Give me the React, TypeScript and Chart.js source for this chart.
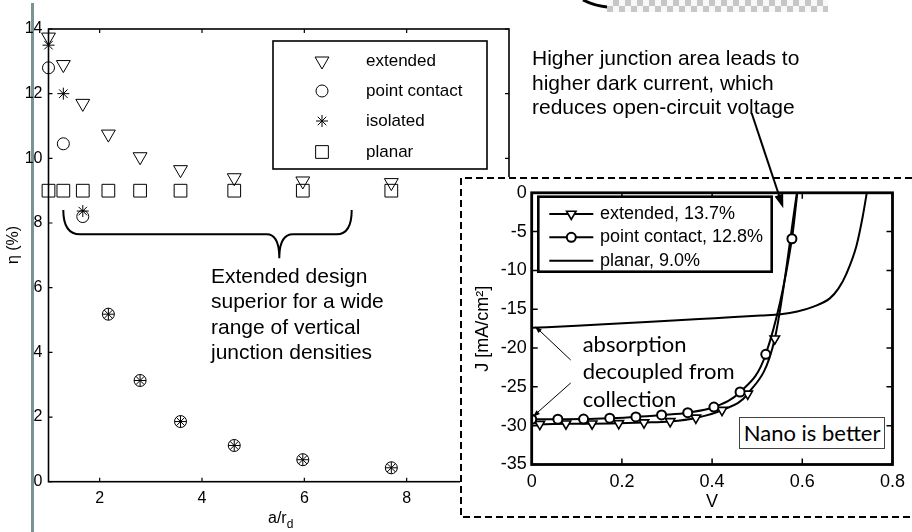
import React, { useEffect, useRef } from 'react';
import { Chart, registerables } from 'chart.js';
import { drawPoint } from 'chart.js/helpers';

Chart.register(...registerables);

const FONT = '"Liberation Sans", Arial, Helvetica, sans-serif';
const CAL = 'Lato, "Open Sans", sans-serif';

// ---------- main chart: efficiency vs a/r_d ----------
const RATIO = [1.0, 1.29, 1.67, 2.17, 2.79, 3.58, 4.63, 5.97, 7.7];
const EXTENDED = [13.75, 12.9, 11.7, 10.75, 10.05, 9.65, 9.4, 9.3, 9.25];
const POINT_CONTACT = [12.8, 10.45, 8.2, 5.18, 3.13, 1.86, 1.12, 0.68, 0.43];
const ISOLATED = [13.5, 12.0, 8.37, 5.18, 3.13, 1.86, 1.12, 0.68, 0.43];
const PLANAR = [9.0, 9.0, 9.0, 9.0, 9.0, 9.0, 9.0, 9.0, 9.0];
const MAIN_LABELS = ['extended', 'point contact', 'isolated', 'planar'];
const MAIN_X_TICKS = [2, 4, 6, 8];
const MAIN_Y_TICKS = [0, 2, 4, 6, 8, 10, 12, 14];

// ---------- inset: J-V curves ----------
const EXT_V = [0, 0.018, 0.076, 0.134, 0.193, 0.249, 0.307, 0.364, 0.422, 0.479, 0.539, 0.588];
const EXT_J = [-29.6, -29.8, -29.75, -29.75, -29.7, -29.6, -29.45, -29.0, -28.0, -25.9, -18.8, 0];
const PC_V = [0, 0.058, 0.115, 0.173, 0.231, 0.288, 0.346, 0.404, 0.462, 0.519, 0.577, 0.589];
const PC_J = [-29.17, -29.17, -29.15, -29.04, -28.87, -28.62, -28.32, -27.6, -25.66, -20.8, -5.92, 0];
const PLANAR_V = [0, 0.1, 0.202, 0.304, 0.406, 0.508, 0.552, 0.589, 0.625, 0.661, 0.68, 0.698, 0.72, 0.734, 0.743];
const PLANAR_J = [-17.4, -17.12, -16.8, -16.49, -16.15, -15.81, -15.65, -15.3, -14.67, -13.6, -12.35, -10.4, -6.85, -3.05, 0];
const INSET_LABELS = ['extended, 13.7%', 'point contact, 12.8%', 'planar, 9.0%'];
const INSET_X_TICKS = [0, 0.2, 0.4, 0.6, 0.8];
const INSET_Y_TICKS = [-35, -30, -25, -20, -15, -10, -5, 0];

const pts = (xs: number[], ys: number[]) => xs.map((x, i) => ({ x, y: ys[i] }));

const INSET_LEFT = 460;
const INSET_TOP = 177;
const INSET_W = 452;
const INSET_H = 341;

function mainConfig(): any {
  const marker = (style: string, radius: number, rotation = 0) => ({
    pointStyle: style,
    pointRadius: radius,
    pointRotation: rotation,
    pointBorderColor: '#000',
    pointBackgroundColor: 'rgba(0,0,0,0)',
    pointBorderWidth: 1,
    showLine: false,
    clip: false,
  });
  const legendStyles = [
    { pointStyle: 'triangle', radius: 8, rotation: 180 },
    { pointStyle: 'circle', radius: 6, rotation: 0 },
    { pointStyle: 'star', radius: 6, rotation: 0 },
    { pointStyle: 'rect', radius: 9, rotation: 0 },
  ];
  const decor = {
    id: 'mainDecor',
    afterDraw(chart: any) {
      const { ctx, chartArea: a, scales } = chart;
      const x = scales.x, y = scales.y;
      ctx.save();
      ctx.strokeStyle = '#000';
      ctx.lineWidth = 1.6;
      ctx.strokeRect(a.left, a.top, a.right - a.left, a.bottom - a.top);
      ctx.lineWidth = 1.2;
      ctx.beginPath();
      for (const v of MAIN_X_TICKS) {
        const px = x.getPixelForValue(v);
        ctx.moveTo(px, a.bottom); ctx.lineTo(px, a.bottom - 4);
        ctx.moveTo(px, a.top); ctx.lineTo(px, a.top + 4);
      }
      for (const v of MAIN_Y_TICKS) {
        const py = y.getPixelForValue(v);
        ctx.moveTo(a.left, py); ctx.lineTo(a.left + 4, py);
        ctx.moveTo(a.right, py); ctx.lineTo(a.right - 4, py);
      }
      ctx.stroke();
      // legend box
      const bx = 273, by = 41, bw = 214, bh = 128;
      ctx.fillStyle = '#fff';
      ctx.fillRect(bx, by, bw, bh);
      ctx.lineWidth = 1.6;
      ctx.strokeRect(bx, by, bw, bh);
      const rows = [61, 91, 121, 152];
      ctx.font = `17px ${FONT}`;
      ctx.textBaseline = 'middle';
      ctx.textAlign = 'left';
      MAIN_LABELS.forEach((lab, i) => {
        const s = legendStyles[i];
        ctx.fillStyle = 'rgba(0,0,0,0)';
        ctx.strokeStyle = '#000';
        ctx.lineWidth = 1;
        drawPoint(ctx, { pointStyle: s.pointStyle as any, radius: s.radius, rotation: s.rotation, borderWidth: 1 }, 322, rows[i]);
        ctx.fillStyle = '#000';
        ctx.fillText(lab, 366, rows[i]);
      });
      ctx.restore();
    },
  };
  return {
    type: 'scatter',
    data: {
      datasets: [
        { label: MAIN_LABELS[0], data: pts(RATIO, EXTENDED), ...marker('triangle', 8, 180) },
        { label: MAIN_LABELS[1], data: pts(RATIO, POINT_CONTACT), ...marker('circle', 6) },
        { label: MAIN_LABELS[2], data: pts(RATIO, ISOLATED), ...marker('star', 6) },
        { label: MAIN_LABELS[3], data: pts(RATIO, PLANAR), ...marker('rect', 9) },
      ],
    },
    options: {
      animation: false,
      responsive: false,
      maintainAspectRatio: false,
      events: [],
      layout: { padding: { top: 29, right: 403, left: 0, bottom: 0 } },
      plugins: { legend: { display: false }, tooltip: { enabled: false } },
      scales: {
        x: {
          type: 'linear', min: 1, max: 10,
          afterFit: (s: any) => { s.height = 50.3; },
          afterBuildTicks: (s: any) => { s.ticks = MAIN_X_TICKS.map((v) => ({ value: v })); },
          grid: { display: false, drawTicks: false },
          border: { display: false },
          ticks: { font: { family: FONT, size: 16 }, color: '#000', padding: 7, maxRotation: 0, callback: (v: any) => String(v) },
        },
        y: {
          type: 'linear', min: 0, max: 14,
          afterFit: (s: any) => { s.width = 48.5; },
          afterBuildTicks: (s: any) => { s.ticks = MAIN_Y_TICKS.map((v) => ({ value: v })); },
          grid: { display: false, drawTicks: false },
          border: { display: false },
          ticks: { font: { family: FONT, size: 16 }, color: '#000', padding: 6, callback: (v: any) => String(v) },
        },
      },
    },
    plugins: [decor],
  };
}

function insetConfig(): any {
  const decor = {
    id: 'insetDecor',
    beforeDraw(chart: any) {
      const { ctx } = chart;
      ctx.save();
      ctx.fillStyle = '#fff';
      ctx.fillRect(0, 0, INSET_W, INSET_H);
      ctx.strokeStyle = '#000';
      ctx.lineWidth = 2;
      ctx.setLineDash([7, 4]);
      ctx.beginPath();
      ctx.moveTo(INSET_W, 1); ctx.lineTo(1, 1); ctx.lineTo(1, INSET_H - 1); ctx.lineTo(INSET_W, INSET_H - 1);
      ctx.stroke();
      ctx.restore();
    },
    afterDraw(chart: any) {
      const { ctx, chartArea: a, scales } = chart;
      const x = scales.x, y = scales.y;
      ctx.save();
      ctx.strokeStyle = '#000';
      ctx.lineWidth = 2.8;
      ctx.strokeRect(a.left, a.top, a.right - a.left, a.bottom - a.top);
      ctx.lineWidth = 1.5;
      ctx.beginPath();
      for (const v of INSET_X_TICKS) {
        const px = x.getPixelForValue(v);
        ctx.moveTo(px, a.bottom); ctx.lineTo(px, a.bottom - 6);
        ctx.moveTo(px, a.top); ctx.lineTo(px, a.top + 6);
      }
      for (const v of INSET_Y_TICKS) {
        const py = y.getPixelForValue(v);
        ctx.moveTo(a.left, py); ctx.lineTo(a.left + 6, py);
        ctx.moveTo(a.right, py); ctx.lineTo(a.right - 6, py);
      }
      ctx.stroke();
      // legend
      const bx = 78.3, by = 19.7, bw = 233.4, bh = 75;
      ctx.fillStyle = '#fff';
      ctx.fillRect(bx, by, bw, bh);
      ctx.lineWidth = 2.6;
      ctx.strokeRect(bx, by, bw, bh);
      const rows = [37, 60.3, 83.7];
      const styles = [
        { pointStyle: 'triangle', radius: 5.5, rotation: 180, bw: 1.6 },
        { pointStyle: 'circle', radius: 4.5, rotation: 0, bw: 2 },
        null,
      ];
      ctx.font = `18px ${FONT}`;
      ctx.textBaseline = 'middle';
      INSET_LABELS.forEach((lab, i) => {
        ctx.strokeStyle = '#000';
        ctx.lineWidth = 2;
        ctx.beginPath();
        ctx.moveTo(89.3, rows[i]); ctx.lineTo(133.3, rows[i]);
        ctx.stroke();
        const s = styles[i];
        if (s) {
          ctx.fillStyle = '#fff';
          ctx.lineWidth = s.bw;
          drawPoint(ctx, { pointStyle: s.pointStyle as any, radius: s.radius, rotation: s.rotation, borderWidth: s.bw }, 111.3, rows[i]);
        }
        ctx.fillStyle = '#000';
        ctx.fillText(lab, 140, rows[i]);
      });
      ctx.restore();
    },
  };
  const lastIdx = (arr: number[]) => arr.length - 1;
  return {
    type: 'line',
    data: {
      datasets: [
        {
          label: INSET_LABELS[2], data: pts(PLANAR_V, PLANAR_J), borderColor: '#000', borderWidth: 2,
          pointRadius: 0, cubicInterpolationMode: 'monotone', fill: false,
        },
        {
          label: INSET_LABELS[1], data: pts(PC_V, PC_J), borderColor: '#000', borderWidth: 2,
          pointStyle: 'circle',
          pointRadius: PC_V.map((_, i) => (i === lastIdx(PC_V) ? 0 : 4.5)),
          pointBackgroundColor: '#fff', pointBorderColor: '#000', pointBorderWidth: 2,
          cubicInterpolationMode: 'monotone', fill: false,
        },
        {
          label: INSET_LABELS[0], data: pts(EXT_V, EXT_J), borderColor: '#000', borderWidth: 2,
          pointStyle: 'triangle', pointRotation: 180,
          pointRadius: EXT_V.map((_, i) => (i === 0 || i === lastIdx(EXT_V) ? 0 : 5.5)),
          pointBackgroundColor: '#fff', pointBorderColor: '#000', pointBorderWidth: 1.6,
          cubicInterpolationMode: 'monotone', fill: false,
        },
      ],
    },
    options: {
      animation: false,
      responsive: false,
      maintainAspectRatio: false,
      events: [],
      layout: { padding: { top: 12.3, right: 15, left: 0, bottom: 0 } },
      plugins: { legend: { display: false }, tooltip: { enabled: false } },
      scales: {
        x: {
          type: 'linear', min: 0, max: 0.8,
          afterFit: (s: any) => { s.height = 53.5; },
          afterBuildTicks: (s: any) => { s.ticks = INSET_X_TICKS.map((v) => ({ value: v })); },
          grid: { display: false, drawTicks: false },
          border: { display: false },
          ticks: { font: { family: FONT, size: 18 }, color: '#000', padding: 7, maxRotation: 0, callback: (v: any) => String(v) },
          title: { display: true, text: 'V', font: { family: FONT, size: 18 }, color: '#000', padding: { top: 0, bottom: 5 } },
        },
        y: {
          type: 'linear', min: -35, max: 0,
          afterFit: (s: any) => { s.width = 71.7; },
          afterBuildTicks: (s: any) => { s.ticks = INSET_Y_TICKS.map((v) => ({ value: v })); },
          grid: { display: false, drawTicks: false },
          border: { display: false },
          ticks: { font: { family: FONT, size: 18 }, color: '#000', padding: 5, callback: (v: any) => String(v) },
          title: { display: true, text: 'J [mA/cm²]', font: { family: FONT, size: 18 }, color: '#000', padding: { top: 12, bottom: 0 } },
        },
      },
    },
    plugins: [decor],
  };
}

function arrowHead(x1: number, y1: number, x2: number, y2: number, len: number, w: number) {
  const a = Math.atan2(y2 - y1, x2 - x1);
  const bx = x2 - len * Math.cos(a), by = y2 - len * Math.sin(a);
  const px = (-Math.sin(a) * w) / 2, py = (Math.cos(a) * w) / 2;
  return `${x2},${y2} ${bx + px},${by + py} ${bx - px},${by - py}`;
}

export default function App() {
  const mainRef = useRef<HTMLCanvasElement>(null);
  const insetRef = useRef<HTMLCanvasElement>(null);

  useEffect(() => {
    const c1 = new Chart(mainRef.current as HTMLCanvasElement, mainConfig());
    const c2 = new Chart(insetRef.current as HTMLCanvasElement, insetConfig());
    return () => {
      c1.destroy();
      c2.destroy();
    };
  }, []);

  const abs = (left: number, top: number, extra: any = {}) => ({ position: 'absolute' as const, left, top, ...extra });

  return (
    <div style={{ position: 'absolute', left: 0, top: 0, width: 912, height: 532, background: '#fff', overflow: 'hidden', fontFamily: FONT, color: '#000' }}>
      {/* slide artefacts at the top */}
      <div style={abs(607, 0, { width: 221, height: 12, opacity: 0.55, background: 'repeating-conic-gradient(#9a9a9a 0 25%, #f2f2f2 0 50%) 0 0 / 12px 12px' })} />
      <div style={abs(31, 3, { width: 2.5, height: 529, background: '#7c9393' })} />

      <canvas ref={mainRef} width={912} height={532} style={abs(0, 0, { width: 912, height: 532 })} />

      <div style={abs(INSET_LEFT, INSET_TOP, { width: INSET_W, height: INSET_H, background: '#fff' })}>
        <canvas ref={insetRef} width={INSET_W} height={INSET_H} style={{ display: 'block', width: INSET_W, height: INSET_H }} />
      </div>

      <svg width={912} height={532} style={abs(0, 0, { pointerEvents: 'none' })}>
        <path d="M583 0 Q595 6 607 7" stroke="#000" strokeWidth={3} fill="none" />
        <path d="M63.3 210 Q63.3 234.3 80 234.3 L266.7 234.3 Q279.3 234.3 279.3 258.3 Q279.3 234.3 293 234.3 L336.7 234.3 Q351.7 234.3 351.7 210" stroke="#000" strokeWidth={2} fill="none" />
        <line x1={751.7} y1={113.3} x2={779.5} y2={196.8} stroke="#000" strokeWidth={2} />
        <polygon points={arrowHead(751.7, 113.3, 783.3, 208.3, 14, 9)} fill="#000" />
        <line x1={570.7} y1={360} x2={540} y2={331} stroke="#000" strokeWidth={1} />
        <polygon points={arrowHead(570.7, 360, 535, 326.5, 7, 5)} fill="#000" />
        <line x1={570.7} y1={383} x2={538} y2={412} stroke="#000" strokeWidth={1} />
        <polygon points={arrowHead(570.7, 383, 533, 416.7, 7, 5)} fill="#000" />
      </svg>

      <div style={abs(13, 245, { transform: 'translate(-50%, -50%) rotate(-90deg)', fontSize: 16, whiteSpace: 'nowrap', lineHeight: '18px' })}>η (%)</div>
      <div style={abs(268, 509, { fontSize: 16, whiteSpace: 'nowrap', lineHeight: '18px' })}>
        a/r<span style={{ fontSize: 12, position: 'relative', top: 5 }}>d</span>
      </div>

      <div style={abs(211, 263, { fontSize: 21, lineHeight: '25.3px', whiteSpace: 'nowrap' })}>
        <div>Extended design</div>
        <div>superior for a wide</div>
        <div>range of vertical</div>
        <div>junction densities</div>
      </div>

      <div style={abs(532, 46, { fontSize: 21, lineHeight: '24.5px', whiteSpace: 'nowrap' })}>
        <div>Higher junction area leads to</div>
        <div>higher dark current, which</div>
        <div>reduces open-circuit voltage</div>
      </div>

      <div style={abs(582.7, 329.5, { fontFamily: CAL, fontSize: 22, lineHeight: '27.5px', whiteSpace: 'nowrap' })}>
        <div>absorption</div>
        <div>decoupled from</div>
        <div>collection</div>
      </div>

      <div style={abs(739.3, 416.7, { width: 145.7, height: 32.6, boxSizing: 'border-box', border: '1px solid #444', background: '#fff', fontFamily: CAL, fontSize: 22, lineHeight: '30px', textAlign: 'center', whiteSpace: 'nowrap' })}>
        Nano is better
      </div>
    </div>
  );
}
